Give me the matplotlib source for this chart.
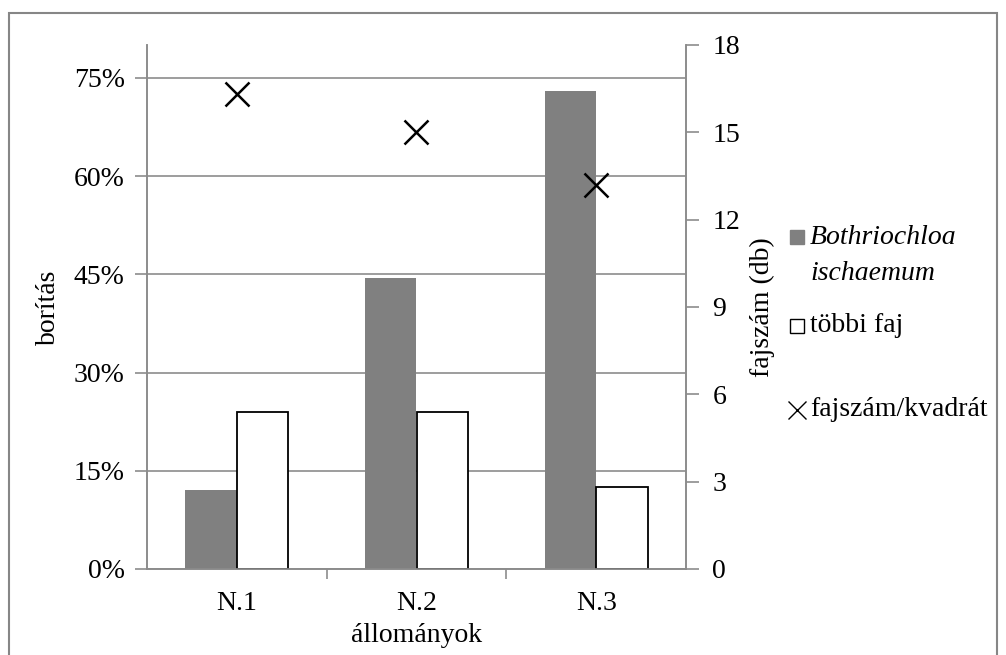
import matplotlib.pyplot as plt
import numpy as np
from matplotlib.lines import Line2D
from matplotlib.patches import Rectangle
from matplotlib.ticker import FixedLocator, PercentFormatter

plt.rcParams['font.family'] = ['Liberation Serif', 'DejaVu Serif']

# borítás és fajszám állományonként
allomanyok = ['N.1', 'N.2', 'N.3']
bothriochloa = [0.12, 0.445, 0.73]
tobbi_faj = [0.24, 0.24, 0.125]
fajszam = [16.3, 15.0, 13.2]

szurke = '#8c8c8c'
W, H = 1006, 655

fig = plt.figure(figsize=(W / 100, H / 100), dpi=100)
fig.patches.append(Rectangle((9 / W, -0.05), 988 / W, 1 - 13 / H + 0.05,
                             transform=fig.transFigure, fill=False,
                             edgecolor='#868686', linewidth=1.5))

ax = fig.add_axes([147 / W, 86 / H, 539 / W, 524 / H])
x = np.arange(len(allomanyok))
w = 0.287
ax.bar(x - w / 2, bothriochloa, w, color='#808080', edgecolor='none', zorder=3)
ax.bar(x + w / 2, tobbi_faj, w, color='white', edgecolor='black',
       linewidth=1.3, zorder=3)

ax.set_xlim(-0.5, 2.5)
ax.set_ylim(0, 0.8)
ax.yaxis.set_major_locator(FixedLocator(np.arange(0, 0.76, 0.15)))
ax.yaxis.set_major_formatter(PercentFormatter(1.0, decimals=0))
ax.grid(axis='y', color=szurke, linewidth=1.2, zorder=0)
ax.set_xticks(x)
ax.set_xticklabels(allomanyok)
ax.xaxis.set_minor_locator(FixedLocator([0.5, 1.5]))
ax.tick_params(axis='x', which='major', length=0, pad=16, labelsize=20)
ax.tick_params(axis='x', which='minor', length=7, color=szurke, width=1.2)
ax.tick_params(axis='y', length=9, color=szurke, width=1.2, pad=7, labelsize=20)
ax.spines['top'].set_visible(False)
for s in ['left', 'bottom', 'right']:
    ax.spines[s].set_color(szurke)
    ax.spines[s].set_linewidth(1.2)
ax.set_ylabel('borítás', fontsize=20, labelpad=9)
ax.set_xlabel('állományok', fontsize=20, labelpad=5)

ax2 = ax.twinx()
ax2.plot(x, fajszam, linestyle='none', marker='x', markersize=17,
         markeredgewidth=1.8, color='black', zorder=4)
ax2.set_ylim(0, 18)
ax2.set_yticks(np.arange(0, 19, 3))
ax2.tick_params(axis='y', length=9, color=szurke, width=1.2, pad=10, labelsize=20)
ax2.spines['top'].set_visible(False)
for s in ['left', 'bottom', 'right']:
    ax2.spines[s].set_color(szurke)
    ax2.spines[s].set_linewidth(1.2)
ax2.set_ylabel('fajszám (db)', fontsize=20, labelpad=7)

# jelmagyarázat: jel a felső sor mellett, ahogy az Excel teszi
jelek = [
    (237, dict(marker='s', markersize=10, markerfacecolor='#808080',
               markeredgecolor='#808080'), ['Bothriochloa', 'ischaemum'], 'italic'),
    (326, dict(marker='s', markersize=10, markerfacecolor='white',
               markeredgecolor='black', markeredgewidth=1.0), ['többi faj'], 'normal'),
    (410, dict(marker='x', markersize=13, markeredgecolor='black',
               markeredgewidth=1.0), ['fajszám/kvadrát'], 'normal'),
]
for y, stilus, sorok, fstyle in jelek:
    fig.add_artist(Line2D([797 / W], [1 - y / H], transform=fig.transFigure,
                          linestyle='none', **stilus))
    for i, sor in enumerate(sorok):
        fig.text(810 / W, 1 - (y + 36 * i) / H, sor, fontsize=20,
                 fontstyle=fstyle, ha='left', va='center')

fig.savefig('out.png', dpi=100)
